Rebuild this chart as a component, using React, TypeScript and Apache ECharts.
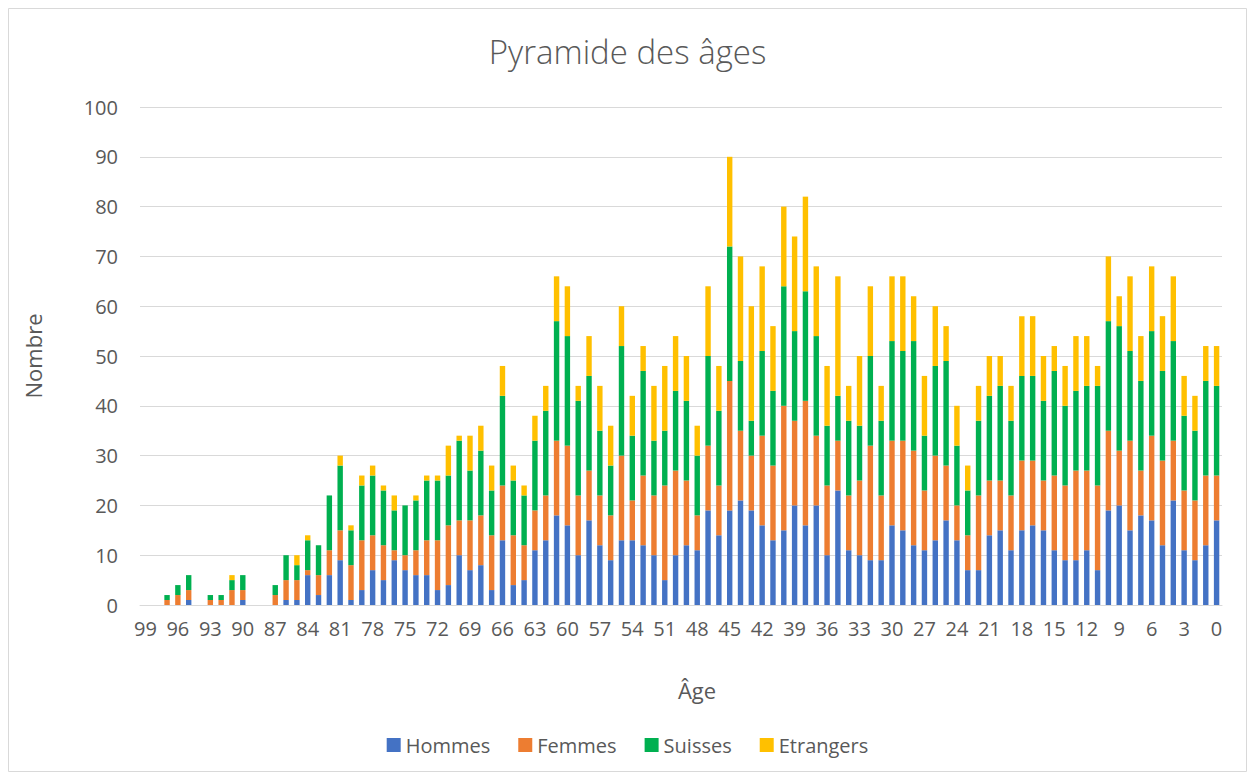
import React, { useEffect, useRef } from "react";
import * as echarts from "echarts";

// Ages from 99 down to 0
const ages: string[] = [];
for (let a = 99; a >= 0; a--) ages.push(String(a));

// Values in order of ages 99 -> 0
const hommes = [
  0, 0, 0, 0, 1, 0, 0, 0, 0, 1,
  0, 0, 0, 1, 1, 6, 2, 6, 9, 1,
  3, 7, 5, 9, 7, 6, 6, 3, 4, 10,
  7, 8, 3, 13, 4, 5, 11, 13, 18, 16,
  10, 17, 12, 9, 13, 13, 12, 10, 5, 10,
  12, 11, 19, 14, 19, 21, 19, 16, 13, 15,
  20, 16, 20, 10, 23, 11, 10, 9, 9, 16,
  15, 12, 11, 13, 17, 13, 7, 7, 14, 15,
  11, 15, 16, 15, 11, 9, 9, 11, 7, 19,
  20, 15, 18, 17, 12, 21, 11, 9, 12, 17,
];
const femmes = [
  0, 0, 1, 2, 2, 0, 1, 1, 3, 2,
  0, 0, 2, 4, 4, 1, 4, 5, 6, 7,
  10, 7, 7, 2, 3, 5, 7, 10, 12, 7,
  10, 10, 11, 11, 10, 7, 8, 9, 15, 16,
  12, 10, 10, 9, 17, 8, 14, 12, 19, 17,
  13, 7, 13, 10, 26, 14, 11, 18, 15, 25,
  17, 25, 14, 14, 10, 11, 15, 23, 13, 17,
  18, 19, 12, 17, 11, 7, 7, 15, 11, 10,
  11, 14, 13, 10, 15, 15, 18, 16, 17, 16,
  11, 18, 9, 17, 17, 12, 12, 12, 14, 9,
];
const suisses = [
  0, 0, 1, 2, 3, 0, 1, 1, 2, 3,
  0, 0, 2, 5, 3, 6, 6, 11, 13, 7,
  11, 12, 11, 8, 10, 10, 12, 12, 10, 16,
  10, 13, 9, 18, 11, 10, 14, 17, 24, 22,
  19, 19, 13, 10, 22, 13, 21, 11, 11, 16,
  16, 12, 18, 15, 27, 14, 7, 17, 15, 24,
  18, 22, 20, 12, 9, 15, 11, 18, 15, 20,
  18, 22, 11, 18, 21, 12, 9, 15, 17, 19,
  15, 17, 17, 16, 21, 16, 16, 17, 20, 22,
  25, 18, 18, 21, 18, 20, 15, 14, 19, 18,
];
const etrangers = [
  0, 0, 0, 0, 0, 0, 0, 0, 1, 0,
  0, 0, 0, 0, 2, 1, 0, 0, 2, 1,
  2, 2, 1, 3, 0, 1, 1, 1, 6, 1,
  7, 5, 5, 6, 3, 2, 5, 5, 9, 10,
  3, 8, 9, 8, 8, 8, 5, 11, 13, 11,
  9, 6, 14, 9, 18, 21, 23, 17, 13, 16,
  19, 19, 14, 12, 24, 7, 14, 14, 7, 13,
  15, 9, 12, 12, 7, 8, 5, 7, 8, 6,
  7, 12, 12, 9, 5, 8, 11, 10, 4, 13,
  6, 15, 9, 13, 11, 13, 8, 7, 7, 8,
];

const seriesNames = ["Hommes", "Femmes", "Suisses", "Etrangers"];
const seriesColors = ["#4472C4", "#ED7D31", "#00B050", "#FFC000"];

const FONT = "'Open Sans', 'Liberation Sans', sans-serif";
const GRAY = "#595959";

export default function App() {
  const ref = useRef<HTMLDivElement>(null);
  useEffect(() => {
    if (!ref.current) return;
    const chart = echarts.init(ref.current, undefined, { renderer: "svg" });
    const data = [hommes, femmes, suisses, etrangers];
    chart.setOption({
      animation: false,
      backgroundColor: "#ffffff",
      textStyle: { fontFamily: FONT },
      title: {
        text: "Pyramide des âges",
        left: "center",
        top: 30,
        textStyle: { fontFamily: FONT, fontSize: 33, fontWeight: 300, color: GRAY },
      },
      legend: {
        bottom: 20,
        left: "center",
        itemWidth: 14,
        itemHeight: 14,
        itemGap: 28,
        icon: "rect",
        textStyle: { fontFamily: FONT, fontSize: 20, color: GRAY },
        data: seriesNames,
      },
      grid: { left: 140, right: 33, top: 107, bottom: 175, containLabel: false },
      xAxis: {
        type: "category",
        data: ages,
        boundaryGap: true,
        axisLine: { lineStyle: { color: "#d9d9d9", width: 1 } },
        axisTick: { show: false },
        axisLabel: { interval: 2, color: GRAY, fontSize: 20, fontFamily: FONT, margin: 13 },
      },
      yAxis: {
        type: "value",
        min: 0,
        max: 100,
        interval: 10,
        axisLine: { show: false },
        axisTick: { show: false },
        splitLine: { lineStyle: { color: "#d9d9d9", width: 1 } },
        axisLabel: { color: GRAY, fontSize: 20, fontFamily: FONT, margin: 22 },
      },
      graphic: [
        {
          type: "rect",
          shape: { x: 8.5, y: 8.5, width: 1238, height: 763 },
          style: { fill: "none", stroke: "#d9d9d9", lineWidth: 1 },
          silent: true,
        },
        {
          type: "text",
          x: 697,
          y: 690,
          style: { text: "Âge", fontFamily: FONT, fontSize: 22, fill: GRAY, align: "center", verticalAlign: "middle" },
        },
        {
          type: "text",
          x: 33,
          y: 356,
          rotation: Math.PI / 2,
          style: { text: "Nombre", fontFamily: FONT, fontSize: 22, fill: GRAY, align: "center", verticalAlign: "middle" },
        },
      ],
      series: seriesNames.map((name, i) => ({
        name,
        type: "bar",
        stack: "total",
        barWidth: "50%",
        itemStyle: { color: seriesColors[i] },
        data: data[i],
      })),
    });
    return () => chart.dispose();
  }, []);
  return (
    <div
      ref={ref}
      style={{ position: "fixed", left: 0, top: 0, width: 1255, height: 780, background: "#fff" }}
    />
  );
}
